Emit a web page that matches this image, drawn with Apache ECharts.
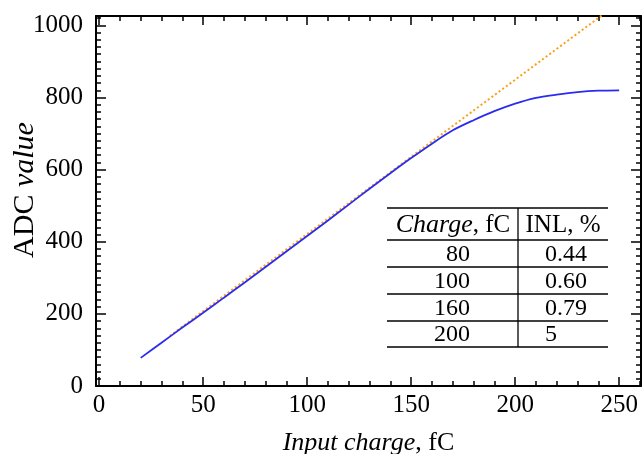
<!DOCTYPE html>
<html><head><meta charset="utf-8">
<script src="https://cdn.jsdelivr.net/npm/echarts@6/dist/echarts.min.js"></script>
<style>html,body{margin:0;padding:0;background:#fff}#c{width:642px;height:454px}</style>
</head><body><div id="c"></div>
<script>
// ---- data ----
const chargeX = [20,30,40,50,60,70,80,90,100,110,120,130,140,150,160,170,180,190,200,210,220,230,240,250];
const adcBlue = [78,120,162,203,245,287,330,373,416,459,503,547,590,632,672,709,737,762,783,799,808,815,819,820];
const fitX = [34,242];
const fitY = [139,1029];
const xMajorTicks = [0,50,100,150,200,250];
const xMinorTicks = [0,10,20,30,40,60,70,80,90,110,120,130,140,160,170,180,190,210,220,230,240,260];
const yMajorTicks = [0,200,400,600,800,1000];
const yMinorTicks = [20,40,60,80,100,120,140,160,180,220,240,260,280,300,320,340,360,380,420,440,460,480,500,520,540,560,580,620,640,660,680,700,720,740,760,780,820,840,860,880,900,920,940,960,980,1020];
const tableHeader = ['Charge', 'INL, %'];
const tableCharge = ['80','100','160','200'];
const tableINL = ['0.44','0.60','0.79','5'];

const FONT = 'Liberation Serif';
const XMIN = -1.5, XMAX = 260.5, YMIN = 0, YMAX = 1026;

function xAx(pos, vals, len, labels, line) {
  return {
    type: 'value', position: pos, min: XMIN, max: XMAX,
    splitLine: {show: false},
    axisLine: {show: line, onZero: false, lineStyle: {color: '#000', width: 2}},
    axisTick: {show: true, inside: true, length: len, customValues: vals, lineStyle: {color: '#000', width: 1.5}},
    axisLabel: labels ? {show: true, customValues: vals, formatter: v => String(v), color: '#000', fontFamily: FONT, fontSize: 25, margin: 7} : {show: false}
  };
}
function yAx(pos, vals, len, labels, line) {
  return {
    type: 'value', position: pos, min: YMIN, max: YMAX,
    splitLine: {show: false},
    axisLine: {show: line, onZero: false, lineStyle: {color: '#000', width: 2}},
    axisTick: {show: true, inside: true, length: len, customValues: vals, lineStyle: {color: '#000', width: 1.5}},
    axisLabel: labels ? {show: true, customValues: vals, formatter: v => String(v), color: '#000', fontFamily: FONT, fontSize: 25, margin: 13} : {show: false}
  };
}

const xAxes = [
  xAx('bottom', xMajorTicks, 9, true, true),
  xAx('bottom', xMinorTicks, 5, false, false),
  xAx('top', xMajorTicks, 9, false, true),
  xAx('top', xMinorTicks, 5, false, false)
];
xAxes[0].name = '{i|Input charge}, fC';
xAxes[0].nameLocation = 'middle';
xAxes[0].nameGap = 44;
xAxes[0].nameMoveOverlap = false;
xAxes[0].nameTextStyle = {color: '#000', fontFamily: FONT, fontSize: 26, rich: {i: {fontStyle: 'italic', fontFamily: FONT, fontSize: 26, color: '#000'}}};

const yAxes = [
  yAx('left', yMajorTicks, 10, true, true),
  yAx('left', yMinorTicks, 5, false, false),
  yAx('right', yMajorTicks, 10, false, true),
  yAx('right', yMinorTicks, 5, false, false)
];
yAxes[0].name = 'ADC {i|value}';
yAxes[0].nameLocation = 'middle';
yAxes[0].nameGap = 56;
yAxes[0].nameMoveOverlap = false;
yAxes[0].nameTextStyle = {color: '#000', fontFamily: FONT, fontSize: 30, padding: [0, 0, 0, 22], rich: {i: {fontStyle: 'italic', fontFamily: FONT, fontSize: 30, color: '#000'}}};

// ---- table (annotation) ----
const tLeft = 387, tRight = 608, tDiv = 518;
const rowLines = [208, 240, 267, 294, 321, 347];
const TF = 24;
const graphic = [];
rowLines.forEach(y => graphic.push({type: 'line', shape: {x1: tLeft, y1: y, x2: tRight, y2: y}, style: {stroke: '#000', lineWidth: 1.3}, silent: true}));
graphic.push({type: 'line', shape: {x1: tDiv, y1: rowLines[0], x2: tDiv, y2: rowLines[rowLines.length-1]}, style: {stroke: '#000', lineWidth: 1.3}, silent: true});
const hdrY = (rowLines[0] + rowLines[1]) / 2 + 1;
graphic.push({type: 'text', x: 453, y: hdrY, style: {text: '{i|' + tableHeader[0] + '}, fC', font: '25px ' + FONT, fill: '#000', align: 'center', verticalAlign: 'middle', rich: {i: {fontStyle: 'italic', fontFamily: FONT, fontSize: 26, fill: '#000'}}}});
graphic.push({type: 'text', x: 563, y: hdrY, style: {text: tableHeader[1], font: '25px ' + FONT, fill: '#000', align: 'center', verticalAlign: 'middle'}});
tableCharge.forEach((c, i) => {
  const cy = (rowLines[i+1] + rowLines[i+2]) / 2 + 1;
  graphic.push({type: 'text', x: 470, y: cy, style: {text: c, font: TF + 'px ' + FONT, fill: '#000', align: 'right', verticalAlign: 'middle'}});
  graphic.push({type: 'text', x: 545, y: cy, style: {text: tableINL[i], font: TF + 'px ' + FONT, fill: '#000', align: 'left', verticalAlign: 'middle'}});
});

const chart = echarts.init(document.getElementById('c'), null, {renderer: 'canvas'});
chart.setOption({
  animation: false,
  backgroundColor: '#fff',
  grid: {left: 96, right: 1, top: 16, bottom: 68, containLabel: false, outerBoundsMode: 'none'},
  xAxis: xAxes,
  yAxis: yAxes,
  graphic: graphic,
  series: [
    {type: 'line', xAxisIndex: 0, yAxisIndex: 0, data: fitX.map((x, i) => [x, fitY[i]]), symbol: 'none', clip: true,
     lineStyle: {color: '#f9a01a', width: 2, type: [2, 2.5]}, z: 2},
    {type: 'line', xAxisIndex: 0, yAxisIndex: 0, data: chargeX.map((x, i) => [x, adcBlue[i]]), symbol: 'none', smooth: 0.3, clip: true,
     lineStyle: {color: '#2b2bf0', width: 1.8}, z: 3}
  ]
});
</script></body></html>
